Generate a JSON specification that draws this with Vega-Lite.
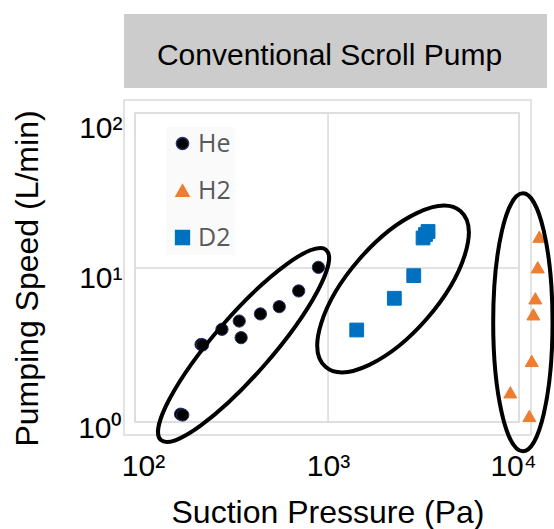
{
  "$schema": "https://vega.github.io/schema/vega-lite/v6.json",
  "padding": {"left": 10, "top": 14, "right": 0, "bottom": 0},
  "background": "white",
  "bounds": "flush",
  "spacing": 12,
  "config": {"font": "Liberation Sans"},
  "vconcat": [
    {
      "width": 423,
      "height": 74,
      "view": {"fill": "#cccccc", "stroke": null},
      "data": {"values": [{"title": "Conventional Scroll Pump"}]},
      "mark": {"type": "text", "font": "Liberation Sans", "fontSize": 30, "color": "#000000", "baseline": "middle", "dy": 5, "dx": -6},
      "encoding": {"text": {"field": "title"}}
    },
    {
      "width": 407,
      "height": 335,
      "view": {"stroke": "#d9d9d9", "strokeWidth": 1.5},
      "encoding": {
        "x": {
          "field": "x", "type": "quantitative",
          "scale": {"type": "log", "domain": [78.9, 12505], "nice": false},
          "title": "Suction Pressure (Pa)",
          "axis": {
            "values": [100, 1000, 10000],
            "labelExpr": "datum.value == 100 ? '10²' : datum.value == 1000 ? '10³' : '10⁴'",
            "grid": false, "domain": false, "ticks": false, "tickSize": 0,
            "labelPadding": 16, "labelFont": "Liberation Sans", "labelFontSize": 30, "labelColor": "#000000",
            "labelFlush": false, "labelOverlap": false,
            "titleFont": "Liberation Sans", "titleFontSize": 32, "titleFontWeight": "normal", "titleColor": "#000000",
            "titleBaseline": "alphabetic", "titleY": 87
          }
        },
        "y": {
          "field": "y", "type": "quantitative",
          "scale": {"type": "log", "domain": [0.77, 131.8], "nice": false},
          "title": "Pumping Speed (L/min)",
          "axis": {
            "values": [1, 10, 100],
            "labelExpr": "datum.value == 1 ? '10⁰' : datum.value == 10 ? '10¹' : '10²'",
            "grid": false, "domain": false, "ticks": false, "tickSize": 0,
            "labelPadding": 2, "labelOffset": 11, "labelBaseline": "middle",
            "labelFont": "Liberation Sans", "labelFontSize": 30, "labelColor": "#000000",
            "labelFlush": false, "labelOverlap": false,
            "titleFont": "Liberation Sans", "titleFontSize": 32, "titleFontWeight": "normal", "titleColor": "#000000",
            "titleBaseline": "alphabetic", "titleAngle": 270, "titleAlign": "center", "titleX": -87, "titleY": 178
          }
        }
      },
      "layer": [
        {
          "data": {"values": [{"x": 90.5, "x2": 10775, "y": 0.94, "y2": 108}]},
          "mark": {"type": "rect", "filled": false, "stroke": "#d4d4d4", "strokeWidth": 1.5},
          "encoding": {"x2": {"field": "x2"}, "y2": {"field": "y2"}}
        },
        {
          "data": {"values": [{"x": 1000, "y": 0.94, "y2": 108}]},
          "mark": {"type": "rule", "stroke": "#d9d9d9", "strokeWidth": 1.5},
          "encoding": {"y2": {"field": "y2"}}
        },
        {
          "data": {"values": [{"x": 90.5, "x2": 10775, "y": 10}]},
          "mark": {"type": "rule", "stroke": "#d9d9d9", "strokeWidth": 1.5},
          "encoding": {"x2": {"field": "x2"}}
        },
        {
          "data": {"values": [
            {"gas": "He", "x": 159.5, "y": 1.06},
            {"gas": "He", "x": 164, "y": 1.047},
            {"gas": "He", "x": 205.8, "y": 3.09},
            {"gas": "He", "x": 210, "y": 3.07},
            {"gas": "He", "x": 267, "y": 3.9},
            {"gas": "He", "x": 331, "y": 4.43},
            {"gas": "He", "x": 339, "y": 3.43},
            {"gas": "He", "x": 431, "y": 4.94},
            {"gas": "He", "x": 545, "y": 5.52},
            {"gas": "He", "x": 694, "y": 7.03},
            {"gas": "He", "x": 887, "y": 10.1},
            {"gas": "H2", "x": 13880, "y": 16.17},
            {"gas": "H2", "x": 13600, "y": 10.11},
            {"gas": "H2", "x": 13200, "y": 6.28},
            {"gas": "H2", "x": 12875, "y": 4.91},
            {"gas": "H2", "x": 12620, "y": 2.4},
            {"gas": "H2", "x": 9670, "y": 1.483},
            {"gas": "H2", "x": 12250, "y": 1.031},
            {"gas": "D2", "x": 1429, "y": 3.86},
            {"gas": "D2", "x": 2282, "y": 6.28},
            {"gas": "D2", "x": 2906, "y": 8.887},
            {"gas": "D2", "x": 3263, "y": 15.85},
            {"gas": "D2", "x": 3365, "y": 16.73},
            {"gas": "D2", "x": 3472, "y": 17.51}
          ]},
          "mark": {"type": "point", "filled": true, "opacity": 1, "strokeWidth": 1},
          "encoding": {
            "color": {
              "field": "gas", "type": "nominal",
              "scale": {"domain": ["He", "H2", "D2"], "range": ["#000000", "#ed7d31", "#0070c0"]},
              "legend": {"orient": "none", "legendX": 42, "legendY": 113, "title": null, "labelFont": "Open Sans", "labelFontSize": 25, "labelColor": "#595959", "symbolSize": 60, "rowPadding": 21, "padding": 4, "fillColor": "#fafafa", "labelOffset": 3}
            },
            "shape": {
              "field": "gas", "type": "nominal",
              "scale": {"domain": ["He", "H2", "D2"], "range": ["circle", "triangle-up", "square"]},
              "legend": {"orient": "none", "legendX": 42, "legendY": 113, "title": null, "labelFont": "Open Sans", "labelFontSize": 25, "labelColor": "#595959", "symbolSize": 60, "rowPadding": 21, "padding": 4, "fillColor": "#fafafa", "labelOffset": 3}
            },
            "stroke": {
              "field": "gas", "type": "nominal",
              "scale": {"domain": ["He", "H2", "D2"], "range": ["#27336b", "#ed7d31", "#0070c0"]},
              "legend": null
            },
            "size": {
              "field": "gas", "type": "nominal",
              "scale": {"domain": ["He", "H2", "D2"], "range": [150, 190, 150]},
              "legend": null
            }
          }
        },
        {
          "data": {"values": [{"x": 349.4, "y": 3.066}]},
          "mark": {"type": "point", "shape": "M -1 0 A 1 0.23 0 1 1 1 0 A 1 0.23 0 1 1 -1 0 Z", "filled": false, "stroke": "#000000", "strokeWidth": 4, "size": 63504, "angle": 311, "opacity": 1}
        },
        {
          "data": {"values": [{"x": 2246, "y": 7.244}]},
          "mark": {"type": "point", "shape": "M -1 0 A 1 0.437 0 1 1 1 0 A 1 0.437 0 1 1 -1 0 Z", "filled": false, "stroke": "#000000", "strokeWidth": 4, "size": 42436, "angle": 311, "opacity": 1}
        },
        {
          "data": {"values": [{"x": 11300, "y": 4.34}]},
          "mark": {"type": "point", "shape": "M 0 -1 A 0.23 1 0 1 1 0 1 A 0.23 1 0 1 1 0 -1 Z", "filled": false, "stroke": "#000000", "strokeWidth": 4, "size": 66564, "opacity": 1}
        }
      ]
    }
  ]
}
